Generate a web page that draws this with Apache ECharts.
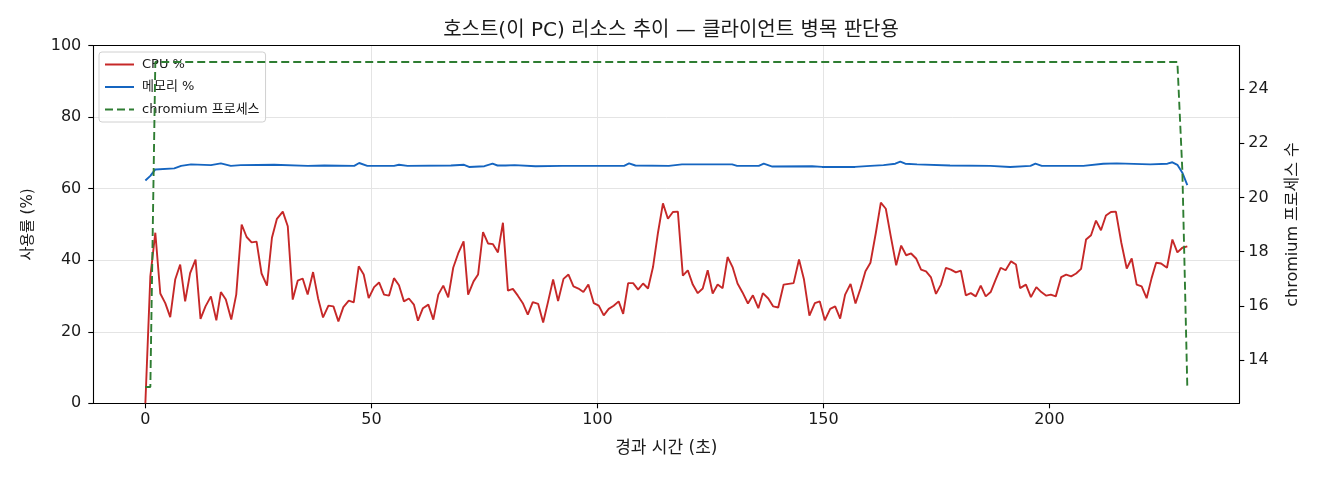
<!DOCTYPE html>
<html>
<head>
<meta charset="utf-8">
<script src="https://cdn.jsdelivr.net/npm/echarts@6/dist/echarts.min.js"></script>
<style>
  html, body { margin: 0; padding: 0; background: #fff; }
  #chart { width: 1320px; height: 480px; }
</style>
</head>
<body>
<div id="chart"></div>
<script>
// ---- data ----
const cpuTime = [0, 1.1, 2.2, 3.3, 4.4, 5.5, 6.6, 7.7, 8.8, 9.9, 11.1, 12.2, 13.3, 14.5, 15.7, 16.7, 17.8, 19.0, 20.1, 21.3,
  22.4, 23.5, 24.6, 25.7, 26.9, 28.0, 29.1, 30.4, 31.5, 32.6, 33.7, 34.8, 35.9, 37.1, 38.2, 39.3, 40.5, 41.6, 42.7, 43.8,
  45.0, 46.1, 47.2, 48.3, 49.4, 50.6, 51.7, 52.8, 53.9, 55.0, 56.1, 57.2, 58.3, 59.4, 60.3, 61.4, 62.6, 63.7, 64.8, 65.9,
  67.0, 68.1, 69.2, 70.4, 71.4, 72.6, 73.6, 74.7, 75.8, 76.9, 78.0, 79.1, 80.2, 81.3, 82.4, 83.5, 84.6, 85.7, 86.9, 88.0,
  89.1, 90.2, 91.3, 92.5, 93.6, 94.7, 95.8, 96.9, 98.0, 99.2, 100.3, 101.4, 102.5, 103.6, 104.7, 105.7, 106.8, 107.9, 109.0, 110.1,
  111.2, 112.3, 113.4, 114.5, 115.6, 116.7, 117.8, 118.9, 120.0, 121.1, 122.2, 123.3, 124.4, 125.5, 126.6, 127.7, 128.8, 129.9, 131.0, 132.1,
  133.3, 134.4, 135.6, 136.6, 137.8, 138.9, 140.0, 141.2, 142.3, 143.4, 144.6, 145.7, 146.9, 148.1, 149.2, 150.3, 151.5, 152.6, 153.7, 154.8,
  156.0, 157.1, 158.2, 159.3, 160.4, 161.6, 162.7, 163.8, 164.9, 166.1, 167.2, 168.3, 169.4, 170.5, 171.6, 172.7, 173.8, 174.9, 176.0, 177.1,
  178.2, 179.3, 180.4, 181.5, 182.6, 183.7, 184.8, 185.9, 187.0, 188.1, 189.2, 190.3, 191.5, 192.6, 193.5, 194.8, 195.9, 197.1, 198.2, 199.3,
  200.3, 201.4, 202.6, 203.7, 204.8, 205.9, 207.0, 208.1, 209.2, 210.3, 211.4, 212.5, 213.6, 214.7, 215.9, 217.1, 218.2, 219.3, 220.4, 221.5,
  222.6, 223.6, 224.7, 226.0, 227.2, 228.3, 229.4, 230.5];
const cpuPct = [0, 35.5, 47.7, 30.7, 28.0, 24.1, 34.6, 38.8, 28.5, 36.4, 40.2, 23.6, 27.1, 29.9, 23.2, 31.1, 29.0, 23.4, 30.4, 50.0,
  46.5, 45.0, 45.2, 36.3, 32.9, 46.3, 51.6, 53.6, 49.5, 29.0, 34.3, 34.9, 30.4, 36.7, 29.4, 24.0, 27.3, 27.1, 22.9, 26.9,
  28.7, 28.2, 38.3, 36.0, 29.4, 32.5, 33.8, 30.4, 30.1, 35.0, 33.0, 28.5, 29.3, 27.6, 23.1, 26.6, 27.6, 23.4, 30.4, 32.9,
  29.6, 37.9, 41.9, 45.3, 30.4, 34.1, 36.0, 47.9, 44.7, 44.5, 42.2, 50.5, 31.5, 32.0, 30.1, 28.0, 24.8, 28.3, 27.8, 22.6,
  28.5, 34.6, 28.6, 34.8, 36.0, 32.7, 32.1, 31.1, 33.2, 28.0, 27.3, 24.6, 26.4, 27.3, 28.5, 25.0, 33.6, 33.6, 31.8, 33.5,
  32.1, 38.1, 47.7, 55.9, 51.6, 53.5, 53.6, 35.7, 37.2, 33.2, 30.8, 32.1, 37.2, 30.7, 33.2, 32.2, 40.9, 38.1, 33.5, 31.0,
  27.9, 30.2, 26.6, 30.8, 29.3, 27.1, 26.8, 33.2, 33.4, 33.6, 40.2, 34.6, 24.5, 28.0, 28.5, 23.2, 26.4, 27.1, 23.7, 30.4,
  33.4, 27.9, 32.1, 36.9, 39.3, 47.7, 56.1, 54.4, 46.7, 38.6, 44.1, 41.4, 41.9, 40.5, 37.4, 36.9, 35.2, 30.6, 33.2, 37.9,
  37.4, 36.6, 37.1, 30.2, 30.8, 29.9, 32.9, 29.9, 31.1, 34.6, 37.9, 37.2, 39.7, 38.8, 32.2, 33.2, 29.7, 32.5, 31.1, 30.1,
  30.4, 29.9, 35.3, 36.0, 35.5, 36.3, 37.6, 45.8, 47.0, 51.1, 48.4, 52.5, 53.5, 53.6, 44.9, 37.7, 40.5, 33.2, 32.7, 29.4,
  35.0, 39.3, 39.1, 37.9, 45.8, 42.2, 43.5, 43.9];

const memTime = [0, 1.1, 2.2, 6.4, 7.9, 10.1, 14.5, 16.7, 18.9, 21.1, 28.5, 35.9, 39.6, 46.2, 47.3, 49.1, 55.0, 56.1, 58.0, 67.6,
  70.5, 71.6, 75.0, 76.8, 77.9, 79.7, 81.7, 86.3, 92.2, 96.7, 105.9, 107.0, 108.4, 115.8, 118.7, 129.8, 130.9, 135.7, 136.8, 138.7,
  147.5, 149.7, 157.0, 160.4, 163.3, 165.9, 167.0, 168.1, 170.7, 178.0, 186.9, 191.3, 195.8, 196.9, 198.3, 207.5, 211.9, 214.9, 222.3, 226.1,
  227.2, 228.3, 229.4, 230.5];
const memPct = [62.3, 63.6, 65.4, 65.7, 66.4, 66.8, 66.6, 67.1, 66.4, 66.6, 66.7, 66.4, 66.5, 66.4, 67.2, 66.4, 66.4, 66.7, 66.4, 66.5,
  66.7, 66.1, 66.3, 67.0, 66.5, 66.5, 66.6, 66.3, 66.4, 66.4, 66.4, 67.1, 66.5, 66.4, 66.8, 66.8, 66.4, 66.4, 67.0, 66.2,
  66.3, 66.1, 66.1, 66.4, 66.6, 67.0, 67.6, 67.0, 66.8, 66.5, 66.4, 66.1, 66.4, 67.0, 66.4, 66.4, 67.0, 67.1, 66.8, 67.0,
  67.4, 66.7, 64.5, 61.0];

const procTime = [0, 1.1, 2.2, 228.3, 229.4, 230.5];
const procCount = [13, 13, 25, 25, 21, 13];

const xTicks = [0, 50, 100, 150, 200];
const rightTicks = [14, 16, 18, 20, 22, 24];

const titleText = '호스트(이 PC) 리소스 추이 — 클라이언트 병목 판단용';
const xName = '경과 시간 (초)';
const yLeftName = '사용률 (%)';
const yRightName = 'chromium 프로세스 수';
const seriesNames = ['CPU %', '메모리 %', 'chromium 프로세스'];

// ---- build ----
const pair = (t, v) => t.map((x, i) => [x, v[i]]);
const FONT = "'DejaVu Sans', 'Noto Sans CJK KR', sans-serif";
const TXT = '#1a1a1a';

const chart = echarts.init(document.getElementById('chart'), null, { renderer: 'canvas' });

const axisLineStyle = { show: true, onZero: false, lineStyle: { color: '#000', width: 1.1 } };
const commonTick = { show: true, inside: false, length: 5, lineStyle: { color: '#000', width: 1.1 } };
const gridLine = { show: true, showMinLine: false, showMaxLine: false, lineStyle: { color: '#e4e4e4', width: 1 } };

chart.setOption({
  animation: false,
  backgroundColor: '#ffffff',
  textStyle: { fontFamily: FONT, color: TXT },
  title: {
    text: titleText,
    left: 666, top: 16, textAlign: 'center',
    textStyle: { fontFamily: FONT, fontSize: 20, fontWeight: 'normal', color: TXT }
  },
  grid: {
    left: 93.3, right: 80.7, top: 45.7, bottom: 76.7,
    show: false, containLabel: false
  },
  legend: {
    orient: 'vertical',
    left: 99, top: 52,
    padding: [6, 6, 6, 5],
    itemWidth: 29, itemHeight: 12, itemGap: 9.5,
    backgroundColor: 'rgba(255,255,255,0.8)',
    borderColor: '#d0d0d0', borderWidth: 1, borderRadius: 3,
    itemStyle: { color: 'transparent', borderColor: 'transparent', borderWidth: 0 },
    textStyle: { fontFamily: FONT, fontSize: 13, color: TXT, padding: [0, 0, 0, 3] },
    data: seriesNames
  },
  xAxis: [
    {
      type: 'value', position: 'bottom',
      min: -11.52, max: 242.0,
      name: xName, nameLocation: 'middle', nameGap: 37,
      nameTextStyle: { fontFamily: FONT, fontSize: 17, color: TXT },
      axisLine: axisLineStyle,
      axisTick: Object.assign({}, commonTick, { customValues: xTicks }),
      axisLabel: { customValues: xTicks, margin: 9, fontSize: 16, color: TXT, fontFamily: FONT },
      splitLine: gridLine
    },
    {
      type: 'value', position: 'top',
      min: -11.52, max: 242.0,
      axisLine: axisLineStyle,
      axisTick: { show: false },
      axisLabel: { show: false },
      splitLine: { show: false }
    }
  ],
  yAxis: [
    {
      type: 'value', min: 0, max: 100, interval: 20, position: 'left',
      name: yLeftName, nameLocation: 'middle', nameGap: 58, nameRotate: 90,
      nameTextStyle: { fontFamily: FONT, fontSize: 15, color: TXT },
      axisLine: axisLineStyle,
      axisTick: commonTick,
      axisLabel: { margin: 12, fontSize: 16, color: TXT, fontFamily: FONT },
      splitLine: gridLine
    },
    {
      type: 'value', min: 12.4, max: 25.6, position: 'right',
      name: yRightName, nameLocation: 'middle', nameGap: 46, nameRotate: 90,
      nameTextStyle: { fontFamily: FONT, fontSize: 16, color: TXT },
      axisLine: axisLineStyle,
      axisTick: Object.assign({}, commonTick, { customValues: rightTicks }),
      axisLabel: { customValues: rightTicks, margin: 9, fontSize: 16, color: TXT, fontFamily: FONT },
      splitLine: { show: false }
    }
  ],
  series: [
    {
      name: seriesNames[0], type: 'line', xAxisIndex: 0, yAxisIndex: 0, symbol: 'none',
      data: pair(cpuTime, cpuPct),
      lineStyle: { color: '#c62828', width: 1.9 }, itemStyle: { color: '#c62828' }, z: 3
    },
    {
      name: seriesNames[1], type: 'line', xAxisIndex: 0, yAxisIndex: 0, symbol: 'none',
      data: pair(memTime, memPct),
      lineStyle: { color: '#1565c0', width: 1.9 }, itemStyle: { color: '#1565c0' }, z: 3
    },
    {
      name: seriesNames[2], type: 'line', xAxisIndex: 0, yAxisIndex: 1, symbol: 'none',
      data: pair(procTime, procCount),
      lineStyle: { color: '#2e7d32', width: 1.9, type: [8, 4] }, itemStyle: { color: '#2e7d32' }, z: 4
    }
  ]
});
</script>
</body>
</html>
